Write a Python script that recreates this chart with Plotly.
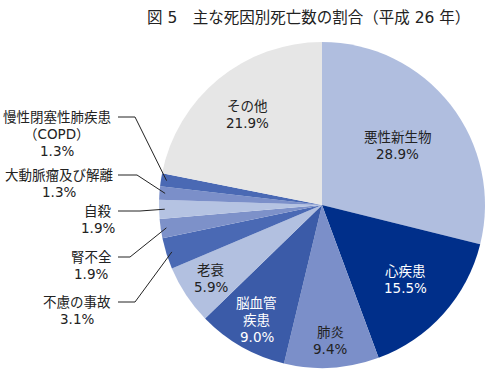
import math
import plotly.graph_objects as go

# ---- data ----
categories = ["悪性新生物", "心疾患", "肺炎", "脳血管疾患", "老衰", "不慮の事故",
              "腎不全", "自殺", "大動脈瘤及び解離", "慢性閉塞性肺疾患（COPD）", "その他"]
values = [28.9, 15.5, 9.4, 9.0, 5.9, 3.1, 1.9, 1.9, 1.3, 1.3, 21.9]
label_lines = [["悪性新生物"], ["心疾患"], ["肺炎"], ["脳血管", "疾患"], ["老衰"], ["不慮の事故"],
               ["腎不全"], ["自殺"], ["大動脈瘤及び解離"], ["慢性閉塞性肺疾患", "（COPD）"], ["その他"]]
title_text = "図 5　主な死因別死亡数の割合（平成 26 年）"

# ---- styles ----
colors = ["#b0bedf", "#002f8a", "#7b8fc9", "#3b5ba8", "#b2c0e0", "#4a69b4",
          "#7d91c9", "#b5c3e2", "#7b8fc9", "#4a69b4", "#e6e6e6"]
text_colors = ["#222222", "#ffffff", "#222222", "#ffffff", "#222222", "#222222",
               "#222222", "#222222", "#222222", "#222222", "#222222"]
FONT = "DejaVu Sans, Noto Sans CJK JP, sans-serif"
FS = 13.5
LINE_H = 17

W, H = 487, 371
CX, CY, R = 322, 205, 163

def px(x):
    return x / W

def py(y):
    return 1 - y / H

fig = go.Figure(go.Pie(
    labels=categories,
    values=values,
    sort=False,
    direction="clockwise",
    rotation=0,
    marker=dict(colors=colors, line=dict(width=0)),
    textinfo="none",
    hoverinfo="skip",
    showlegend=False,
    domain=dict(x=[px(CX - R), px(CX + R)], y=[py(CY + R), py(CY - R)]),
))

total = sum(values)
cum = 0
mids = []
for v in values:
    mids.append((cum + v / 2) / total * 360)
    cum += v

def polar(angle_deg, r):
    a = math.radians(angle_deg)
    return CX + r * math.sin(a), CY - r * math.cos(a)

annotations = []
shapes = []

def add_block(lines, cx, cy_first, color):
    for k, t in enumerate(lines):
        annotations.append(dict(
            x=px(cx), y=py(cy_first + k * LINE_H), xref="paper", yref="paper",
            text=t, showarrow=False, xanchor="center", yanchor="middle",
            borderpad=0,
            font=dict(family=FONT, size=FS, color=color),
        ))

# inside labels: index -> radius fraction
inside = {0: 0.59, 1: 0.69, 2: 0.83, 3: 0.81, 4: 0.82, 10: 0.72}
for i, frac in inside.items():
    x, y = polar(mids[i], frac * R)
    lines = label_lines[i] + [f"{values[i]:.1f}%"]
    first = y - (len(lines) - 1) * LINE_H / 2
    add_block(lines, x, first, text_colors[i])

# outside labels: index -> (label center x, first line y, elbow x)
outside = {9: (57, 117, 135), 8: (59, 175, 137), 7: (98, 211, 140),
           6: (91, 257, 130), 5: (77, 302, 135)}
for i, (lx, ly, ex) in outside.items():
    lines = label_lines[i] + [f"{values[i]:.1f}%"]
    add_block(lines, lx, ly, "#222222")
    tx, ty = polar(mids[i], 0.965 * R)
    path = f"M {px(118)},{py(ly)} L {px(ex)},{py(ly)} L {px(tx)},{py(ty)}"
    shapes.append(dict(type="path", path=path, xref="paper", yref="paper",
                       line=dict(color="#222222", width=1)))

annotations.append(dict(
    x=px(472), y=py(18), xref="paper", yref="paper", text=title_text,
    showarrow=False, xanchor="right", yanchor="middle",
    font=dict(family=FONT, size=15.5, color="#222222"),
))

fig.update_layout(
    width=W, height=H,
    margin=dict(l=0, r=0, t=0, b=0),
    paper_bgcolor="white", plot_bgcolor="white",
    annotations=annotations, shapes=shapes,
)

fig.write_html("out.html", config={"displayModeBar": False},
               post_script="document.body.style.margin='0';document.body.style.overflow='hidden';")
